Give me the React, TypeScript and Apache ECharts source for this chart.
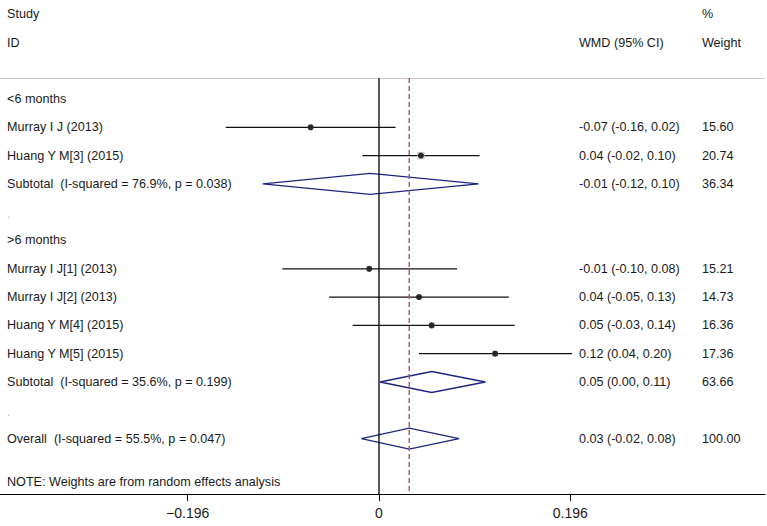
import React, { useEffect, useRef } from "react";
import * as echarts from "echarts";

// ---- data ----
const rowLabels = [
  "<6 months",
  "Murray I J (2013)",
  "Huang Y M[3] (2015)",
  "Subtotal  (I-squared = 76.9%, p = 0.038)",
  ".",
  ">6 months",
  "Murray I J[1] (2013)",
  "Murray I J[2] (2013)",
  "Huang Y M[4] (2015)",
  "Huang Y M[5] (2015)",
  "Subtotal  (I-squared = 35.6%, p = 0.199)",
  ".",
  "Overall  (I-squared = 55.5%, p = 0.047)",
];
const studyRows = [1, 2, 6, 7, 8, 9];
const studyEst = [-0.07, 0.043, -0.01, 0.041, 0.054, 0.119];
const studyLo = [-0.157, -0.017, -0.099, -0.051, -0.027, 0.041];
const studyHi = [0.017, 0.103, 0.08, 0.133, 0.139, 0.198];
const studyWeight = [15.6, 20.74, 15.21, 14.73, 16.36, 17.36];

const pooledRows = [3, 10, 12];
const pooledEst = [-0.009, 0.054, 0.031];
const pooledLo = [-0.119, 0.001, -0.018];
const pooledHi = [0.102, 0.109, 0.082];
const pooledWeight = [36.34, 63.66, 100.0];

const overallEst = 0.031;
const tickValues = [-0.196, 0, 0.196];
const headerLeft = ["Study", "ID"];
const headerWmd = "WMD (95% CI)";
const headerWeight = ["%", "Weight"];
const noteText = "NOTE: Weights are from random effects analysis";

// ---- layout constants ----
const X_MIN = -0.3883;
const X_MAX = 0.3955;
const Y_MIN = -3.498;
const Y_MAX = 13.958;
const TOP_ROW = -0.742;
const SEP_ROW = -0.724;
const COL_LABEL = -0.3811;
const COL_WMD = 0.2049;
const COL_WEIGHT = 0.3309;
const FONT = '"Liberation Sans", Arial, sans-serif';
const TEXT_COLOR = "#1a1a1a";
const FS = 12.6;

const fmt = (v: number) => v.toFixed(2);

export default function App() {
  const ref = useRef<HTMLDivElement>(null);
  useEffect(() => {
    if (!ref.current) return;
    const chart = echarts.init(ref.current, null, { renderer: "svg" });

    // text items: [x, row, text, color, size]
    const texts: any[] = [];
    texts.push([COL_LABEL, -3, headerLeft[0], TEXT_COLOR, FS]);
    texts.push([COL_LABEL, -1.98, headerLeft[1], TEXT_COLOR, FS]);
    texts.push([COL_WEIGHT, -3, headerWeight[0], TEXT_COLOR, FS]);
    texts.push([COL_WEIGHT, -1.98, headerWeight[1], TEXT_COLOR, FS]);
    texts.push([COL_WMD, -1.98, headerWmd, TEXT_COLOR, FS]);
    rowLabels.forEach((l, i) => {
      texts.push([COL_LABEL, i + (l === "." ? 0.06 : 0), l, l === "." ? "#bbb" : TEXT_COLOR, FS]);
    });
    studyRows.forEach((r, i) => {
      texts.push([COL_WMD, r, `${fmt(studyEst[i])} (${fmt(studyLo[i])}, ${fmt(studyHi[i])})`, TEXT_COLOR, FS]);
      texts.push([COL_WEIGHT, r, studyWeight[i].toFixed(2), TEXT_COLOR, FS]);
    });
    pooledRows.forEach((r, i) => {
      texts.push([COL_WMD, r, `${fmt(pooledEst[i])} (${fmt(pooledLo[i])}, ${fmt(pooledHi[i])})`, TEXT_COLOR, FS]);
      texts.push([COL_WEIGHT, r, pooledWeight[i].toFixed(2), TEXT_COLOR, FS]);
    });
    texts.push([COL_LABEL, 13.53, noteText, TEXT_COLOR, FS]);

    const option: any = {
      animation: false,
      grid: { left: 0, right: 2, top: 0, bottom: 32, containLabel: false },
      xAxis: {
        type: "value",
        min: X_MIN,
        max: X_MAX,
        splitLine: { show: false },
        axisLine: { show: true, onZero: false, lineStyle: { color: "#000", width: 1 } },
        axisTick: { show: true, customValues: tickValues, length: 7, lineStyle: { color: "#000", width: 1 } },
        axisLabel: {
          customValues: tickValues,
          fontSize: 14,
          fontFamily: FONT,
          color: TEXT_COLOR,
          margin: 12,
          formatter: (v: number) => (v < 0 ? "\u2212" + Math.abs(v).toFixed(3) : v === 0 ? "0" : v.toFixed(3)),
        },
      },
      yAxis: {
        type: "value",
        inverse: true,
        min: Y_MIN,
        max: Y_MAX,
        show: false,
      },
      series: [
        {
          type: "line",
          data: [[X_MIN, SEP_ROW], [X_MAX, SEP_ROW]],
          symbol: "none",
          lineStyle: { color: "#d9c6cb", width: 1 },
          silent: true,
        },
        {
          type: "line",
          data: [[0, TOP_ROW], [0, Y_MAX]],
          symbol: "none",
          lineStyle: { color: "#000", width: 1.3 },
          silent: true,
        },
        {
          type: "line",
          data: [[overallEst, TOP_ROW], [overallEst, Y_MAX]],
          symbol: "none",
          lineStyle: { color: "#c9475f", width: 1.4, type: [5, 3] },
          silent: true,
        },
        {
          type: "custom",
          clip: false,
          data: studyRows.map((r, i) => [studyLo[i], studyHi[i], r]),
          renderItem: (params: any, api: any) => {
            const a = api.coord([api.value(0), api.value(2)]);
            const b = api.coord([api.value(1), api.value(2)]);
            return {
              type: "line",
              shape: { x1: a[0], y1: a[1], x2: b[0], y2: b[1] },
              style: { stroke: "#111", lineWidth: 1.3 },
            };
          },
        },
        {
          type: "scatter",
          data: studyRows.map((r, i) => [studyEst[i], r, studyWeight[i]]),
          symbol: "rect",
          symbolSize: (v: number[]) => v[2] * 0.36,
          itemStyle: { color: "#c4c4c4" },
          silent: true,
        },
        {
          type: "scatter",
          data: studyRows.map((r, i) => [studyEst[i], r]),
          symbol: "circle",
          symbolSize: 6,
          itemStyle: { color: "#000" },
          silent: true,
        },
        {
          type: "custom",
          clip: false,
          data: pooledRows.map((r, i) => [pooledLo[i], pooledEst[i], pooledHi[i], r]),
          renderItem: (params: any, api: any) => {
            const r = api.value(3);
            const h = 0.37;
            const p1 = api.coord([api.value(0), r]);
            const p2 = api.coord([api.value(1), r - h]);
            const p3 = api.coord([api.value(2), r]);
            const p4 = api.coord([api.value(1), r + h]);
            return {
              type: "polygon",
              shape: { points: [p1, p2, p3, p4] },
              style: { fill: "none", stroke: "#1c2580", lineWidth: 1.4 },
            };
          },
        },
        {
          type: "custom",
          clip: false,
          data: texts,
          renderItem: (params: any, api: any) => {
            const d = texts[params.dataIndex];
            const p = api.coord([d[0], d[1]]);
            return {
              type: "text",
              x: p[0],
              y: p[1],
              style: {
                text: d[2],
                fill: d[3],
                fontSize: d[4],
                fontFamily: FONT,
                align: "left",
                verticalAlign: "middle",
              },
            };
          },
        },
      ],
    };
    chart.setOption(option);
    return () => chart.dispose();
  }, []);
  return (
    <div
      ref={ref}
      style={{ position: "fixed", left: 0, top: 0, width: 767, height: 526, background: "#fff" }}
    />
  );
}
